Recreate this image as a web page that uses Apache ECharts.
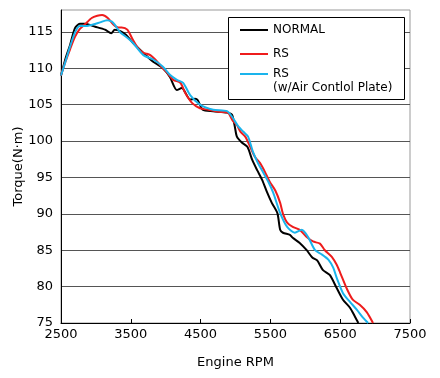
<!DOCTYPE html>
<html>
<head>
<meta charset="utf-8">
<script src="https://cdn.jsdelivr.net/npm/echarts@6/dist/echarts.min.js"></script>
<style>html,body{margin:0;padding:0;background:#fff}#c{width:440px;height:378px}</style>
</head>
<body>
<div id="c"></div>
<script>
var xTicks = [2500, 3500, 4500, 5500, 6500, 7500];
var yTicks = [75, 80, 85, 90, 95, 100, 105, 110, 115];
var seriesNames = ['NORMAL', 'RS', 'RS (w/Air Contlol Plate)'];

var normalRpm = [2500,2570,2630,2700,2770,2840,2990,3130,3220,3270,3350,3430,3530,3680,3820,3960,4060,4160,4230,4350,4420,4460,4530,4680,4880,4950,4990,5020,5090,5170,5240,5310,5380,5450,5520,5600,5640,5680,5780,5820,5920,6020,6100,6170,6250,6350,6450,6540,6640,6710,6760];
var normalTorque = [109.0,111.5,113.2,115.5,116.1,116.1,115.7,115.3,114.8,115.3,115.1,114.6,113.5,112.1,110.9,110.0,108.8,107.0,107.3,105.7,105.8,105.6,104.3,104.1,103.9,103.6,102.0,100.6,99.8,99.2,97.4,96.0,94.7,93.0,91.5,90.1,87.8,87.4,87.1,86.7,86.0,85.0,84.0,83.6,82.3,81.6,79.8,78.2,77.1,75.9,75.0];

var rsRpm = [2500,2560,2630,2700,2770,2840,2940,3020,3090,3170,3250,3320,3370,3450,3530,3600,3680,3730,3780,3850,3950,4020,4110,4210,4280,4380,4490,4610,4780,4890,4960,5020,5070,5140,5210,5280,5350,5420,5490,5570,5640,5680,5740,5820,5920,6020,6110,6210,6280,6380,6450,6500,6600,6680,6780,6880,6970];
var rsTorque = [109.0,110.8,112.6,114.3,115.4,116.0,116.9,117.2,117.3,116.9,116.0,115.6,115.6,115.3,113.9,112.8,112.1,112.0,111.8,111.2,110.1,109.4,108.4,108.0,106.6,105.2,104.5,104.3,104.0,103.9,102.8,102.2,101.3,100.6,99.2,97.8,97.0,95.8,94.4,93.2,91.5,90.0,88.8,88.2,87.8,86.8,86.2,85.9,85.0,84.1,83.0,81.9,79.6,78.2,77.5,76.5,75.0];

var plateRpm = [2500,2560,2630,2700,2770,2860,2960,3060,3160,3230,3270,3350,3450,3530,3680,3820,3960,4060,4160,4250,4350,4490,4680,4880,4960,5040,5110,5180,5250,5320,5390,5470,5540,5640,5740,5850,5950,6040,6140,6240,6330,6400,6450,6540,6640,6740,6830,6900];
var plateTorque = [109.0,110.8,113.0,114.9,115.8,115.8,116.0,116.3,116.6,116.4,116.0,114.9,114.2,113.5,111.8,111.2,110.2,109.1,108.4,108.0,106.3,105.0,104.3,104.1,103.2,102.0,101.3,100.6,98.5,97.0,95.8,94.4,92.9,90.1,88.2,87.4,87.8,86.8,85.0,84.4,83.7,82.6,81.2,79.1,77.9,76.8,75.7,75.0];

function zip(a, b) { return a.map(function (v, i) { return [v, b[i]]; }); }

var FONT = 'DejaVu Sans';
var chart = echarts.init(document.getElementById('c'), null, {renderer: 'canvas'});

function mkSeries(name, xs, ys, color) {
  return {
    name: name, type: 'line', data: zip(xs, ys),
    smooth: 0.25, showSymbol: false, symbol: 'none',
    lineStyle: {color: color, width: 2}, itemStyle: {color: color},
    animation: false
  };
}

var legendCommon = {
  orient: 'vertical', left: 240, padding: 0, itemGap: 9,
  icon: 'rect', itemWidth: 28, itemHeight: 2,
  textStyle: {fontFamily: FONT, fontSize: 12, color: '#000', lineHeight: 14},
  selectedMode: false
};

chart.setOption({
  backgroundColor: '#fff',
  animation: false,
  grid: {left: 61, right: 30, top: 10, bottom: 55, show: true, borderColor: '#999', borderWidth: 1,
    outerBoundsMode: 'none', containLabel: false},
  xAxis: {
    type: 'value', min: xTicks[0], max: xTicks[xTicks.length - 1], interval: 1000,
    name: 'Engine RPM', nameLocation: 'middle', nameGap: 33,
    nameTextStyle: {fontFamily: FONT, fontSize: 13, color: '#000'},
    axisLine: {lineStyle: {color: '#000', width: 1}},
    axisTick: {inside: true, length: 4, lineStyle: {color: '#000'}},
    axisLabel: {fontFamily: FONT, fontSize: 13, color: '#000', margin: 5,
      formatter: function (v) { return String(v); }},
    splitLine: {show: false}
  },
  yAxis: {
    type: 'value', min: 75, max: 118, interval: 5,
    name: 'Torque(N·m)', nameLocation: 'middle', nameGap: 36, nameMoveOverlap: false,
    nameTextStyle: {fontFamily: FONT, fontSize: 13, color: '#000'},
    axisLine: {show: true, lineStyle: {color: '#000', width: 1}},
    axisTick: {show: false},
    axisLabel: {fontFamily: FONT, fontSize: 13, color: '#000', margin: 8, showMaxLabel: false,
      formatter: function (v) { return yTicks.indexOf(v) >= 0 ? String(v) : ''; }},
    splitLine: {show: true, showMaxLine: false, lineStyle: {color: '#555', width: 1}}
  },
  graphic: [{
    type: 'rect', z: 3, silent: true,
    shape: {x: 228.5, y: 17.5, width: 176, height: 82},
    style: {fill: '#fff', stroke: '#000', lineWidth: 1}
  }],
  legend: [
    Object.assign({}, legendCommon, {top: 23, itemGap: 10, data: [seriesNames[0], seriesNames[1]]}),
    Object.assign({}, legendCommon, {
      top: 67,
      icon: 'path://M0,0L0.01,0M0,6H28V8H0ZM0,28L0.01,28',
      itemWidth: 28, itemHeight: 28,
      data: [seriesNames[2]],
      formatter: function () { return 'RS\n(w/Air Contlol Plate)'; }
    })
  ],
  series: [
    mkSeries(seriesNames[0], normalRpm, normalTorque, '#000000'),
    mkSeries(seriesNames[1], rsRpm, rsTorque, '#ee1c1c'),
    mkSeries(seriesNames[2], plateRpm, plateTorque, '#1ab4ec')
  ]
});
</script>
</body>
</html>
